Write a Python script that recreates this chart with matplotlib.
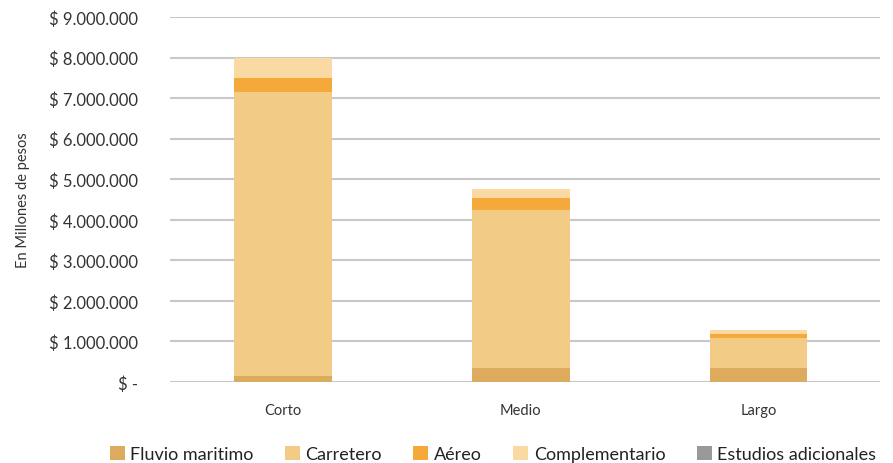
import matplotlib
matplotlib.use("Agg")
import matplotlib.pyplot as plt
from matplotlib.patches import Patch
import numpy as np

plt.rcParams['font.family'] = ['Lato', 'DejaVu Sans']

categories = ["Corto", "Medio", "Largo"]
fluvio = [140000, 345000, 345000]
carretero = [7000000, 3905000, 740000]
aereo = [350000, 280000, 95000]
complementario = [510000, 240000, 100000]
estudios = [0, 0, 0]

series = [
    ("Fluvio maritimo", fluvio, "#DDAB5E"),
    ("Carretero", carretero, "#F2CB86"),
    ("Aéreo", aereo, "#F6A93B"),
    ("Complementario", complementario, "#FAD9A2"),
    ("Estudios adicionales", estudios, "#999999"),
]

yticks = list(range(0, 9000001, 1000000))

def fmt(v):
    if v == 0:
        return "$ -"
    return "$ " + f"{v:,}".replace(",", ".")

fig = plt.figure(figsize=(8.93, 4.64), dpi=100)
ax = fig.add_axes([170/893, 1-383/464, 710/893, (383-18)/464])

x = np.arange(len(categories))
bottom = np.zeros(len(categories))
for name, vals, col in series:
    v = np.array(vals, dtype=float)
    ax.bar(x, v, width=0.41, bottom=bottom, color=col, label=name, zorder=3)
    bottom += v

ax.set_ylim(0, 9000000)
ax.set_xlim(-0.475, 2.51)
ax.set_yticks(yticks)
ax.set_yticklabels([fmt(v) for v in yticks], fontsize=12, color="#333333")
ax.set_xticks(x)
ax.set_xticklabels(categories, fontsize=10.5, color="#333333")
ax.tick_params(axis='y', length=0, pad=23)
ax.tick_params(axis='x', length=0, pad=15)
ax.yaxis.grid(True, color="#C8C8C8", linewidth=1.5, zorder=0)
ax.set_axisbelow(True)
for s in ax.spines.values():
    s.set_visible(False)
ax.set_ylabel("En Millones de pesos", fontsize=10.5, color="#333333", labelpad=14)

handles = [Patch(facecolor=c, label=n) for n, _, c in series]
fig.legend(handles=handles, loc="lower center", bbox_to_anchor=(0.552, -0.033), ncol=5,
           frameon=False, fontsize=13, handlelength=0.83, handleheight=0.83,
           handletextpad=0.3, columnspacing=1.75, labelcolor="#222222")

fig.savefig("out.png", dpi=100)
